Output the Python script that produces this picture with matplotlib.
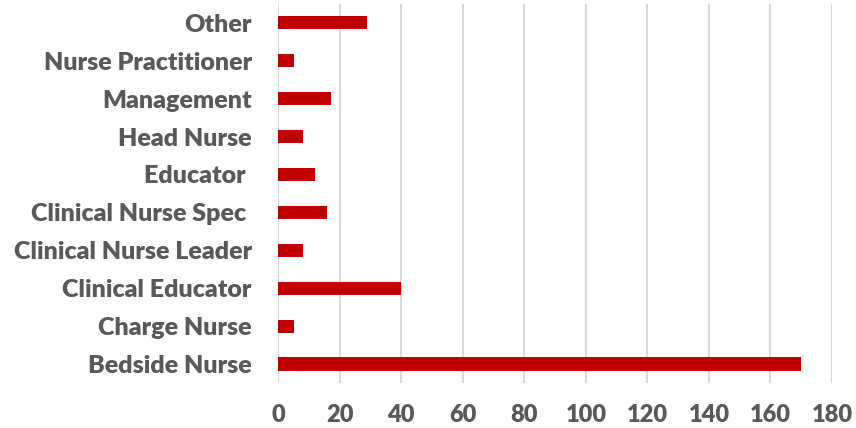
import matplotlib.pyplot as plt

roles = ['Bedside Nurse', 'Charge Nurse', 'Clinical Educator', 'Clinical Nurse Leader',
         'Clinical Nurse Spec ', 'Educator ', 'Head Nurse', 'Management',
         'Nurse Practitioner', 'Other']
counts = [170, 5, 40, 8, 16, 12, 8, 17, 5, 29]
xticks = [0, 20, 40, 60, 80, 100, 120, 140, 160, 180]

plt.rcParams['font.family'] = ['Lato', 'DejaVu Sans']

fig = plt.figure(figsize=(8.56, 4.28), dpi=100)
ax = fig.add_axes([0.325, 0.105, 0.647, 0.886])

ax.barh(range(len(roles)), counts, height=0.35, color='#c00000')
ax.set_ylim(-0.5, len(roles) - 0.5)
ax.set_xlim(0, 180)
ax.set_xticks(xticks)
ax.set_yticks(range(len(roles)))
ax.set_yticklabels(roles)

ax.grid(axis='x', color='#d9d9d9', linewidth=1.5)
ax.set_axisbelow(True)
for s in ax.spines.values():
    s.set_visible(False)
ax.tick_params(length=0, colors='#595959', labelsize=18)
ax.tick_params(axis='x', labelsize=17, pad=15)
ax.tick_params(axis='y', pad=19)
for lab in ax.get_xticklabels() + ax.get_yticklabels():
    lab.set_fontweight('heavy')

fig.savefig('out.png', dpi=100)
